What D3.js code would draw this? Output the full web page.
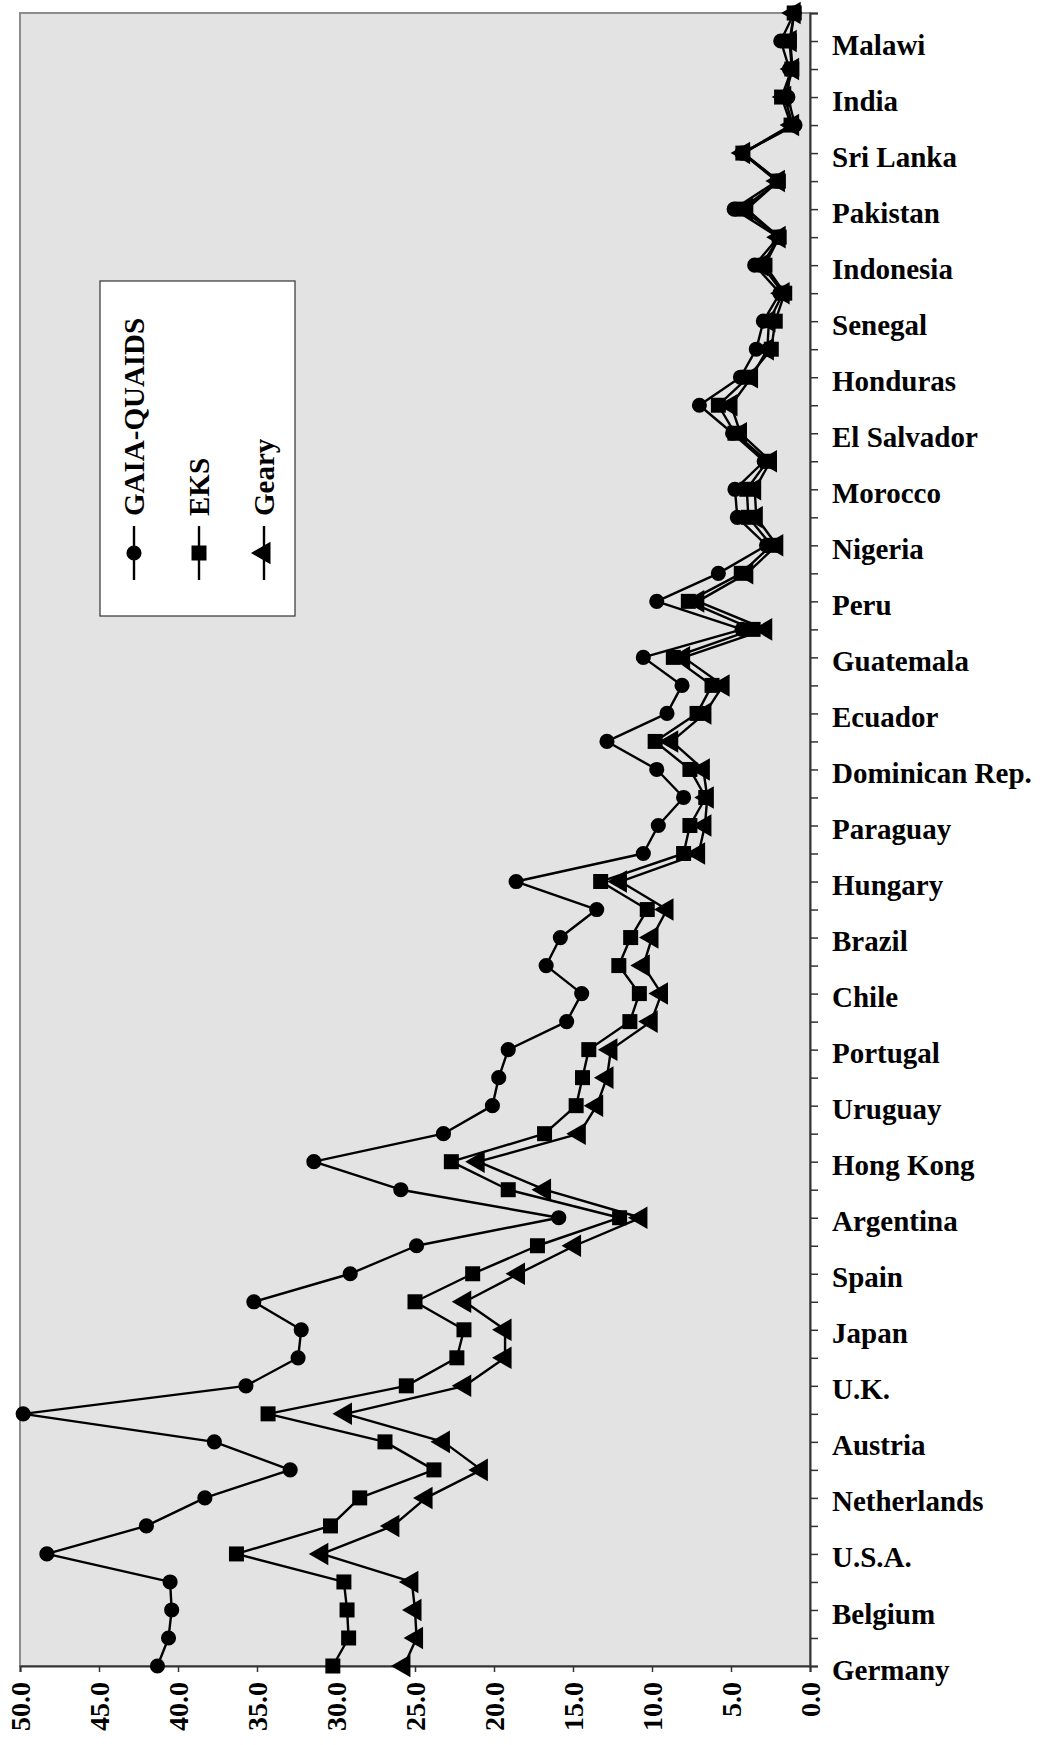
<!DOCTYPE html>
<html>
<head>
<meta charset="utf-8">
<script src="https://cdn.jsdelivr.net/npm/d3@7"></script>
<style>
  body { margin: 0; background: #fff; }
  text { font-family: "Liberation Serif", "Times New Roman", serif; font-weight: bold; }
</style>
</head>
<body>
<div id="chart"></div>
<script>
// Countries from top (poorest) to bottom; only every other one is labelled
const categories = [
    '', 'Malawi', '', 'India', '', 'Sri Lanka', '', 'Pakistan', '', 'Indonesia',
    '', 'Senegal', '', 'Honduras', '', 'El Salvador', '', 'Morocco', '', 'Nigeria',
    '', 'Peru', '', 'Guatemala', '', 'Ecuador', '', 'Dominican Rep.', '', 'Paraguay',
    '', 'Hungary', '', 'Brazil', '', 'Chile', '', 'Portugal', '', 'Uruguay',
    '', 'Hong Kong', '', 'Argentina', '', 'Spain', '', 'Japan', '', 'U.K.',
    '', 'Austria', '', 'Netherlands', '', 'U.S.A.', '', 'Belgium', '', 'Germany'
];

const gaiaQuaids = [
    1.0, 1.85, 1.3, 1.4, 0.95, 4.3, 2.1, 4.8, 2.0, 3.5,
    1.9, 2.95, 3.4, 4.4, 7.0, 4.9, 2.9, 4.75, 4.6, 2.75,
    5.8, 9.7, 4.3, 10.55, 8.1, 9.05, 12.85, 9.7, 8.0, 9.6,
    10.55, 18.6, 13.5, 15.8, 16.7, 14.45, 15.4, 19.1, 19.7, 20.1,
    23.2, 31.4, 25.9, 15.9, 24.9, 29.1, 35.2, 32.2, 32.4, 35.7,
    49.8, 37.7, 32.9, 38.3, 42.0, 48.3, 40.5, 40.4, 40.6, 41.3
];

const eks = [
    1.0, 1.3, 1.15, 1.8, 1.2, 4.25, 2.0, 4.3, 1.95, 2.85,
    1.6, 2.2, 2.45, 3.9, 5.8, 4.75, 2.7, 4.0, 3.9, 2.45,
    4.35, 7.7, 3.6, 8.65, 6.2, 7.15, 9.8, 7.6, 6.6, 7.6,
    8.0, 13.25, 10.3, 11.35, 12.1, 10.8, 11.4, 14.0, 14.4, 14.8,
    16.8, 22.7, 19.1, 12.05, 17.25, 21.35, 25.0, 21.9, 22.35, 25.55,
    34.3, 26.9, 23.8, 28.5, 30.35, 36.3, 29.5, 29.3, 29.2, 30.2
];

const geary = [
    1.0, 1.25, 1.1, 1.6, 1.1, 4.2, 2.0, 4.0, 1.95, 3.05,
    1.7, 2.6, 2.7, 3.7, 5.0, 4.4, 2.5, 3.5, 3.4, 2.1,
    4.0, 7.1, 2.8, 8.0, 5.5, 6.65, 8.75, 6.75, 6.5, 6.65,
    7.05, 12.0, 9.05, 10.0, 10.55, 9.4, 10.05, 12.6, 12.85, 13.5,
    14.6, 21.0, 16.8, 10.7, 14.9, 18.45, 21.85, 19.3, 19.3, 21.85,
    29.4, 23.2, 20.8, 24.3, 26.4, 30.9, 25.2, 25.0, 24.9, 25.7
];

const valueTicks = [0, 5, 10, 15, 20, 25, 30, 35, 40, 45, 50];

const seriesNames = ['GAIA-QUAIDS', 'EKS', 'Geary'];

const width = 1044, height = 1745;
const plot = {left: 20, right: 810, top: 13, bottom: 1666};

const svg = d3.select('#chart')
    .append('svg')
    .attr('width', width)
    .attr('height', height);

svg.append('rect')
    .attr('width', width)
    .attr('height', height)
    .attr('fill', '#fff');

// Scales: value axis runs right-to-left, countries top-to-bottom
const x = d3.scaleLinear()
    .domain([50, 0])
    .range([plot.left, plot.right]);

const y = d3.scalePoint()
    .domain(d3.range(categories.length))
    .range([plot.top, plot.bottom])
    .padding(0);

// Plot area
svg.append('rect')
    .attr('x', plot.left)
    .attr('y', plot.top)
    .attr('width', plot.right - plot.left)
    .attr('height', plot.bottom - plot.top)
    .attr('fill', '#e3e3e3')
    .attr('stroke', '#8c8c8c')
    .attr('stroke-width', 2);

// Category axis on the right
const yAxis = svg.append('g')
    .attr('transform', `translate(${plot.right},0)`)
    .call(d3.axisRight(y)
        .tickSize(8)
        .tickPadding(14)
        .tickFormat(i => categories[i]));

yAxis.select('.domain').attr('stroke', '#333').attr('stroke-width', 2);
yAxis.selectAll('.tick line').attr('stroke', '#333').attr('stroke-width', 1.5);
yAxis.selectAll('text')
    .attr('fill', '#000')
    .attr('dy', '0.45em')
    .style('font-size', '29px')
    .style('font-family', '"Liberation Serif", "Times New Roman", serif')
    .style('font-weight', 'bold');

// Value axis at the bottom, labels turned
const xAxis = svg.append('g')
    .attr('transform', `translate(0,${plot.bottom})`)
    .call(d3.axisBottom(x)
        .tickValues(valueTicks)
        .tickSize(6)
        .tickFormat(d3.format('.1f')));

xAxis.select('.domain').attr('stroke', '#333').attr('stroke-width', 2);
xAxis.selectAll('.tick line').attr('stroke', '#333').attr('stroke-width', 1.5);
xAxis.selectAll('text')
    .attr('fill', '#000')
    .attr('transform', 'rotate(-90)')
    .attr('x', -16)
    .attr('y', 0)
    .attr('dy', '0.35em')
    .style('text-anchor', 'end')
    .style('font-size', '28px')
    .style('font-family', '"Liberation Serif", "Times New Roman", serif')
    .style('font-weight', 'bold');

// Markers
const symbols = {
    'GAIA-QUAIDS': {type: d3.symbolCircle, size: 180, rotate: 0},
    'EKS': {type: d3.symbolSquare, size: 225, rotate: 0},
    'Geary': {type: d3.symbolTriangle, size: 220, rotate: -90}
};

function markerPath(name) {
    return d3.symbol().type(symbols[name].type).size(symbols[name].size)();
}

const seriesData = {
    'GAIA-QUAIDS': gaiaQuaids,
    'EKS': eks,
    'Geary': geary
};

const line = d3.line()
    .x(d => x(d))
    .y((d, i) => y(i));

// Lines first, then markers on top
seriesNames.forEach(name => {
    svg.append('path')
        .datum(seriesData[name])
        .attr('fill', 'none')
        .attr('stroke', '#000')
        .attr('stroke-width', 2.4)
        .attr('stroke-linejoin', 'round')
        .attr('d', line);
});

['GAIA-QUAIDS', 'Geary', 'EKS'].forEach(name => {
    svg.append('g')
        .selectAll('path')
        .data(seriesData[name])
        .enter()
        .append('path')
        .attr('d', markerPath(name))
        .attr('fill', '#000')
        .attr('transform', (d, i) => `translate(${x(d)},${y(i)}) rotate(${symbols[name].rotate})`);
});

// Legend (turned like the rest of the figure)
const legend = svg.append('g');

legend.append('rect')
    .attr('x', 100)
    .attr('y', 281)
    .attr('width', 195)
    .attr('height', 335)
    .attr('fill', '#fff')
    .attr('stroke', '#333')
    .attr('stroke-width', 1.2);

const legendX = [134, 199, 264];

seriesNames.forEach((name, k) => {
    const lx = legendX[k];
    legend.append('line')
        .attr('x1', lx).attr('x2', lx)
        .attr('y1', 526).attr('y2', 580)
        .attr('stroke', '#000')
        .attr('stroke-width', 2.4);
    legend.append('path')
        .attr('d', markerPath(name))
        .attr('fill', '#000')
        .attr('transform', `translate(${lx},553) rotate(${symbols[name].rotate})`);
    legend.append('text')
        .attr('transform', `translate(${lx},516) rotate(-90)`)
        .attr('dy', '0.35em')
        .style('font-size', '29px')
        .style('text-anchor', 'start')
        .text(name);
});
</script>
</body>
</html>
